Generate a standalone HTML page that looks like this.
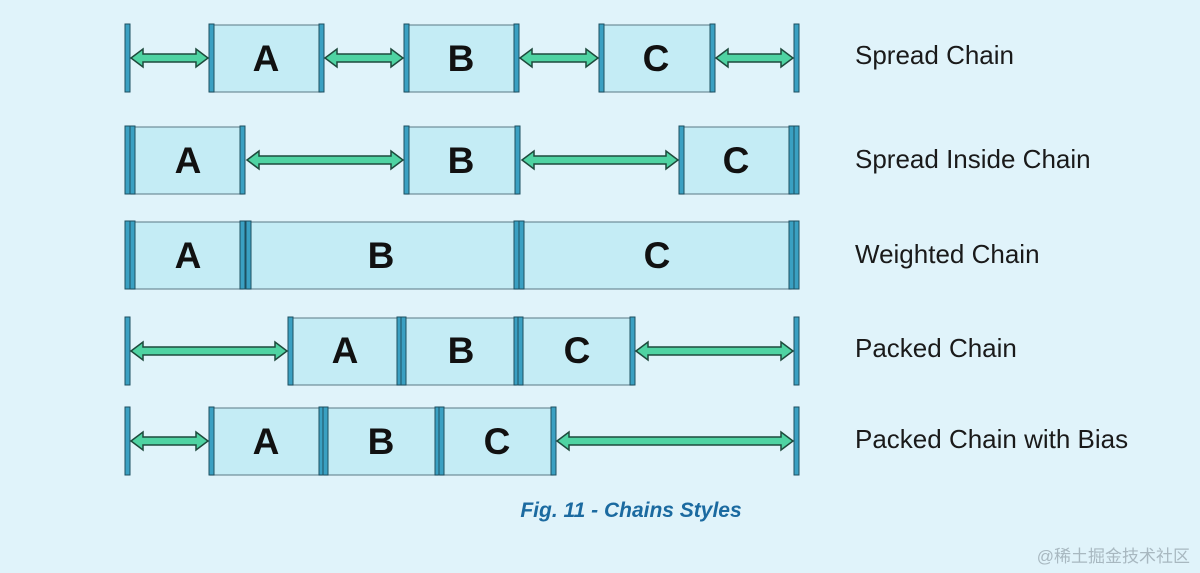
<!DOCTYPE html>
<html><head><meta charset="utf-8"><style>
html,body{margin:0;padding:0;background:#e0f3fa;}
svg{display:block}
.lbl{font-family:"Liberation Sans",sans-serif;font-size:26px;fill:#1a1a1a}
.let{font-family:"Liberation Sans",sans-serif;font-size:37px;font-weight:bold;fill:#111;text-anchor:middle}
.box{fill:#c4ecf5;stroke:#6f8d98;stroke-width:1.2}
.bar{fill:#3aa0c2;stroke:#1d4f60;stroke-width:1}
.arr{fill:#4fd3a2;stroke:#1e4a3c;stroke-width:1.5;stroke-linejoin:miter}
</style></head><body>
<svg width="1200" height="573" viewBox="0 0 1200 573" xmlns="http://www.w3.org/2000/svg">
<rect width="1200" height="573" fill="#e0f3fa"/>
<!-- Row 1 -->
<rect class="bar" x="125" y="24" width="5" height="68"/>
<rect class="bar" x="794" y="24" width="5" height="68"/>
<rect class="box" x="210" y="25" width="111" height="67"/><rect class="bar" x="209" y="24" width="5" height="68"/><rect class="bar" x="319" y="24" width="5" height="68"/>
<rect class="box" x="405" y="25" width="111" height="67"/><rect class="bar" x="404" y="24" width="5" height="68"/><rect class="bar" x="514" y="24" width="5" height="68"/>
<rect class="box" x="600" y="25" width="112" height="67"/><rect class="bar" x="599" y="24" width="5" height="68"/><rect class="bar" x="710" y="24" width="5" height="68"/>
<polygon class="arr" points="131,58 143,49 143,54 196,54 196,49 208,58 196,67 196,62 143,62 143,67"/>
<polygon class="arr" points="325,58 337,49 337,54 391,54 391,49 403,58 391,67 391,62 337,62 337,67"/>
<polygon class="arr" points="520,58 532,49 532,54 586,54 586,49 598,58 586,67 586,62 532,62 532,67"/>
<polygon class="arr" points="716,58 728,49 728,54 781,54 781,49 793,58 781,67 781,62 728,62 728,67"/>
<text class="let" x="266" y="71">A</text><text class="let" x="461" y="71">B</text><text class="let" x="656" y="71">C</text>
<text class="lbl" x="855" y="64">Spread Chain</text>
<!-- Row 2 -->
<rect class="bar" x="125" y="126" width="5" height="68"/>
<rect class="bar" x="794" y="126" width="5" height="68"/>
<rect class="box" x="131" y="127" width="112" height="67"/><rect class="bar" x="130" y="126" width="5" height="68"/><rect class="bar" x="240" y="126" width="5" height="68"/>
<rect class="box" x="405" y="127" width="113" height="67"/><rect class="bar" x="404" y="126" width="5" height="68"/><rect class="bar" x="515" y="126" width="5" height="68"/>
<rect class="box" x="680" y="127" width="111" height="67"/><rect class="bar" x="679" y="126" width="5" height="68"/><rect class="bar" x="789" y="126" width="5" height="68"/>
<polygon class="arr" points="247,160 259,151 259,156 391,156 391,151 403,160 391,169 391,164 259,164 259,169"/>
<polygon class="arr" points="522,160 534,151 534,156 666,156 666,151 678,160 666,169 666,164 534,164 534,169"/>
<text class="let" x="188" y="173">A</text><text class="let" x="461" y="173">B</text><text class="let" x="736" y="173">C</text>
<text class="lbl" x="855" y="168">Spread Inside Chain</text>
<!-- Row 3 -->
<rect class="bar" x="125" y="221" width="5" height="68"/>
<rect class="bar" x="794" y="221" width="5" height="68"/>
<rect class="box" x="131" y="222" width="112" height="67"/><rect class="bar" x="130" y="221" width="5" height="68"/><rect class="bar" x="240" y="221" width="5" height="68"/>
<rect class="box" x="247" y="222" width="271" height="67"/><rect class="bar" x="246" y="221" width="5" height="68"/><rect class="bar" x="514" y="221" width="5" height="68"/>
<rect class="box" x="520" y="222" width="271" height="67"/><rect class="bar" x="519" y="221" width="5" height="68"/><rect class="bar" x="789" y="221" width="5" height="68"/>
<text class="let" x="188" y="268">A</text><text class="let" x="381" y="268">B</text><text class="let" x="657" y="268">C</text>
<text class="lbl" x="855" y="263">Weighted Chain</text>
<!-- Row 4 -->
<rect class="bar" x="125" y="317" width="5" height="68"/>
<rect class="bar" x="794" y="317" width="5" height="68"/>
<rect class="box" x="289" y="318" width="112" height="67"/><rect class="bar" x="288" y="317" width="5" height="68"/><rect class="bar" x="397" y="317" width="5" height="68"/>
<rect class="box" x="402" y="318" width="114" height="67"/><rect class="bar" x="401" y="317" width="5" height="68"/><rect class="bar" x="514" y="317" width="5" height="68"/>
<rect class="box" x="519" y="318" width="114" height="67"/><rect class="bar" x="518" y="317" width="5" height="68"/><rect class="bar" x="630" y="317" width="5" height="68"/>
<polygon class="arr" points="131,351 143,342 143,347 275,347 275,342 287,351 275,360 275,355 143,355 143,360"/>
<polygon class="arr" points="636,351 648,342 648,347 781,347 781,342 793,351 781,360 781,355 648,355 648,360"/>
<text class="let" x="345" y="363">A</text><text class="let" x="461" y="363">B</text><text class="let" x="577" y="363">C</text>
<text class="lbl" x="855" y="357">Packed Chain</text>
<!-- Row 5 -->
<rect class="bar" x="125" y="407" width="5" height="68"/>
<rect class="bar" x="794" y="407" width="5" height="68"/>
<rect class="box" x="210" y="408" width="112" height="67"/><rect class="bar" x="209" y="407" width="5" height="68"/><rect class="bar" x="319" y="407" width="5" height="68"/>
<rect class="box" x="324" y="408" width="114" height="67"/><rect class="bar" x="323" y="407" width="5" height="68"/><rect class="bar" x="435" y="407" width="5" height="68"/>
<rect class="box" x="440" y="408" width="113" height="67"/><rect class="bar" x="439" y="407" width="5" height="68"/><rect class="bar" x="551" y="407" width="5" height="68"/>
<polygon class="arr" points="131,441 143,432 143,437 196,437 196,432 208,441 196,450 196,445 143,445 143,450"/>
<polygon class="arr" points="557,441 569,432 569,437 781,437 781,432 793,441 781,450 781,445 569,445 569,450"/>
<text class="let" x="266" y="454">A</text><text class="let" x="381" y="454">B</text><text class="let" x="497" y="454">C</text>
<text class="lbl" x="855" y="448">Packed Chain with Bias</text>
<!-- caption -->
<text x="631" y="517" text-anchor="middle" style="font-family:'Liberation Sans',sans-serif;font-size:21px;font-weight:bold;font-style:italic;fill:#1b6aa0">Fig. 11 - Chains Styles</text>
<text x="1190" y="562" text-anchor="end" style="font-family:'Liberation Sans','Noto Sans CJK SC',sans-serif;font-size:17px;fill:#a8b8c0">@稀土掘金技术社区</text>
</svg>
</body></html>
